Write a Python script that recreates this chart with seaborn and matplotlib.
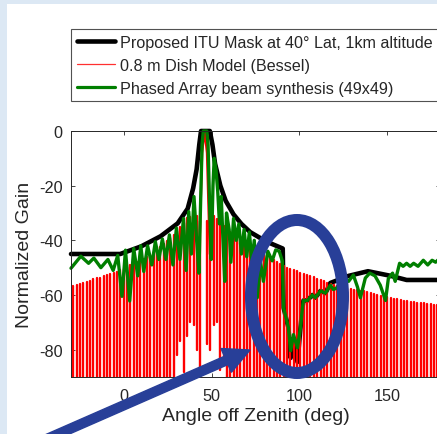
import numpy as np
import pandas as pd
import matplotlib
matplotlib.use("Agg")
import matplotlib.pyplot as plt
import seaborn as sns
from matplotlib.patches import Ellipse, FancyArrow, Rectangle
from matplotlib.lines import Line2D
from matplotlib.transforms import IdentityTransform

# ---------------- data ----------------
mask_angle = [-30, -2, 10, 21, 30.7, 36.4, 39.5, 41.5, 43, 44, 49, 50.5, 52, 55, 58, 62.5, 67, 72, 81,
              90.5, 91, 93.75, 95, 96.6, 98.9, 100.6, 101.7, 102.3, 104.5, 107.4, 109, 112, 114.8,
              117.6, 128, 139, 152, 161, 180]
mask_db = [-45, -45, -42.2, -38.5, -33.8, -28.4, -21, -14, -5, 0, 0, -5, -12, -20, -25.5, -30.5, -34,
           -37, -40.4, -43, -64.7, -72, -83, -76, -84.5, -72, -64.7, -62, -62, -60, -61, -58.5, -59.3,
           -55.6, -53, -51.3, -53, -54.5, -54.5]

array_angle = [-30, -24.4, -20, -17, -13, -9, -6, -3.4, -1, 1, 3.4, 5.7, 8, 9.7, 11.4, 13.6, 16, 18, 20,
               22, 24, 26, 28, 30, 32, 34, 35.5, 37, 38.5, 40, 41.5, 42.8, 43.8, 44.6, 45.3, 47.3, 48,
               48.8, 49.8, 50.8, 51.5, 52.5, 53.5, 54.5, 55.5, 56.5, 57.5, 58.5, 60, 61, 62.5, 64, 65.5,
               67, 68.5, 70, 71.5, 73, 74.3, 76, 77.8, 79.5, 82, 84.5, 86.5, 88.5, 90.3, 91, 93.75, 95,
               96.6, 98.9, 100.6, 101.7, 102.3, 104.5, 107.4, 109, 112, 114.8, 117.6, 119.3, 121, 124,
               126, 128, 130.7, 133, 134.7, 137.5, 140, 143, 146, 149, 150.6, 153, 154.5, 156, 157, 159,
               161, 163, 165, 167.5, 170.5, 173, 175.5, 177.5, 180]
array_db = [-50.2, -45.8, -48.4, -46.5, -50, -47, -51, -45.5, -60.5, -43.6, -62.2, -43, -53, -42, -51.4,
            -42, -49, -40.5, -47, -39.5, -47, -38, -49, -35.5, -47, -32, -51, -29.5, -45, -24, -40, -52,
            -25, -5, 0, 0, -5, -25, -47, -20, -10, -14, -22, -34, -24, -40, -55, -30, -36, -48, -32, -40,
            -34, -45, -36, -46, -37, -48, -40, -61, -47.6, -55, -44, -47.5, -43.5, -44, -47.6, -64.7,
            -72, -80.4, -74.5, -79.3, -72, -64.7, -62, -62, -60, -61, -58.5, -59.3, -56.4, -58, -57.5,
            -55.5, -54, -55, -52.7, -57, -61, -53.8, -52, -53, -56.4, -62, -54, -52, -55, -51, -48.4,
            -49.5, -48.4, -49.5, -48.4, -49.5, -47.3, -49, -47.3, -48, -46.5]

# Dish model: one sidelobe every 1.9 deg around the main lobe (index 39)
dish_lobe_angle = 45.5 + 1.9 * np.arange(-39, 71)
dish_peak_db = [-56.7, -56.3, -55.9, -55.5, -55.1, -54.7, -54.3, -53.9, -53.6, -53.2,
                -52.8, -52.4, -52.0, -51.6, -51.0, -50.4, -49.8, -49.2, -48.6, -48.0,
                -47.3, -46.7, -46.1, -45.4, -44.4, -43.4, -42.4, -41.4, -40.3, -39.3,
                -38.2, -36.6, -35.1, -33.5, -32.0, -31.6, -31.2, -31.0, -33.0, 0.0,
                -33.0, -31.0, -31.0, -32.2, -33.4, -34.6, -35.8, -37.0, -38.0, -39.4,
                -40.8, -41.8, -42.6, -43.0, -43.6, -44.2, -44.8, -45.3, -45.9, -46.5,
                -47.2, -47.9, -48.6, -49.3, -50.0, -50.4, -50.9, -51.3, -51.8, -52.2,
                -52.6, -53.1, -53.5, -54.0, -54.5, -55.0, -55.5, -56.0, -56.5, -56.7,
                -57.0, -57.2, -57.5, -57.7, -58.0, -58.2, -58.5, -58.7, -59.0, -59.3,
                -59.6, -59.9, -60.2, -60.5, -60.8, -61.0, -61.3, -61.6, -61.9, -62.1,
                -62.3, -62.4, -62.6, -62.8, -62.9, -63.1, -63.2, -63.4, -63.5, -63.7]
# main lobe shape of the dish model
main_lobe_angle = [43.0, 44.6, 46.0, 47.4, 49.0]
main_lobe_db = [-45, -8, 0, -8, -45]
# lobes whose nulls stay above the plot floor (near the main beam)
shallow_null_index = [31, 32, 33, 34, 35, 36, 37, 40, 41, 42, 43, 44, 45]
shallow_null_db = [-82, -77, -88, -75, -70, -71, -80, -78, -80, -71, -70, -87.6, -83]
deep_null_db = -100

legend_labels = ["Proposed ITU Mask at 40\u00b0 Lat, 1km altitude",
                 "0.8 m Dish Model (Bessel)",
                 "Phased Array beam synthesis (49x49)"]
xticks = [0, 50, 100, 150]
yticks = [0, -20, -40, -60, -80]

# ---------------- build tables ----------------
df_mask = pd.DataFrame({"angle": mask_angle, "db": mask_db})
df_array = pd.DataFrame({"angle": array_angle, "db": array_db})
null_map = dict(zip(shallow_null_index, shallow_null_db))
rows = []
for i, (a, p) in enumerate(zip(dish_lobe_angle, dish_peak_db)):
    if i == 39:
        rows += [(i, ma, md) for ma, md in zip(main_lobe_angle, main_lobe_db)]
    else:
        rows += [(i, a, null_map.get(i, deep_null_db)), (i, a, p)]
df_dish = pd.DataFrame(rows, columns=["lobe", "angle", "db"])

# ---------------- style ----------------
sns.set_style("ticks")
plt.rcParams["font.family"] = ["Liberation Sans", "DejaVu Sans"]
plt.rcParams["axes.unicode_minus"] = False

W, H = 437, 435
fig = plt.figure(figsize=(W / 100, H / 100), dpi=100)
fig.patch.set_facecolor("#dce8f4")
fig.add_artist(Rectangle((7 / W, 0), 1, 1 - 5 / H, transform=fig.transFigure,
                         facecolor="white", edgecolor="none", zorder=-2))

ax_l, ax_r, ax_t, ax_b = 71, 440, 132, 378
ax = fig.add_axes([ax_l / W, 1 - ax_b / H, (ax_r - ax_l) / W, (ax_b - ax_t) / H])
ax.set_facecolor("white")

sns.lineplot(data=df_mask, x="angle", y="db", sort=False, estimator=None, color="black",
             lw=3.3, ax=ax, clip_on=False, solid_joinstyle="round", solid_capstyle="round")
sns.lineplot(data=df_dish, x="angle", y="db", units="lobe", sort=False, estimator=None,
             color="#ff0000", lw=1.7, ax=ax)
sns.lineplot(data=df_array, x="angle", y="db", sort=False, estimator=None, color="#007f00",
             lw=2.4, ax=ax, clip_on=False, solid_joinstyle="round")

ax.set_xlim(-30, 180)
ax.set_ylim(-90, 0)
ax.set_xticks(xticks)
ax.set_yticks(yticks)
tc = "#262626"
ax.tick_params(direction="in", top=True, right=True, length=3, width=0.6, colors=tc,
               labelsize=11.7)
ax.tick_params(axis="x", pad=8)
ax.tick_params(axis="y", pad=6)
for s in ax.spines.values():
    s.set_color(tc)
    s.set_linewidth(0.7)
ax.set_xlabel("Angle off Zenith (deg)", fontsize=14, color=tc, labelpad=3)
ax.set_ylabel("Normalized Gain", fontsize=14, color=tc, labelpad=4)
if ax.get_legend() is not None:
    ax.get_legend().remove()

handles = [Line2D([], [], color="black", lw=3.3),
           Line2D([], [], color="#ff3030", lw=0.9),
           Line2D([], [], color="#007f00", lw=2.3)]
leg = fig.legend(handles, legend_labels, loc="upper left",
                 bbox_to_anchor=(ax_l / W, 1 - 30 / H), bbox_transform=fig.transFigure,
                 fontsize=11.6, frameon=True, fancybox=False, borderaxespad=0,
                 handlelength=2.4, handletextpad=0.3, labelspacing=0.5, borderpad=0.35)
leg.get_frame().set_edgecolor("#262626")
leg.get_frame().set_linewidth(0.8)

# annotation: ellipse and arrow (pixel coordinates)
blue = "#283f98"
def px(x, y):
    return (x, H - y)
ell = Ellipse(px(297, 297.5), 92, 153, angle=0, fill=False, edgecolor=blue, lw=12 * 0.72,
              transform=IdentityTransform(), zorder=10)
fig.add_artist(ell)
x0, y0 = px(40, 443)
x1, y1 = px(250, 351)
arr = FancyArrow(x0, y0, x1 - x0, y1 - y0, width=9, head_width=26, head_length=26,
                 length_includes_head=True, color=blue, transform=IdentityTransform(), zorder=10)
fig.add_artist(arr)

fig.savefig("out.png", dpi=100, facecolor=fig.get_facecolor())
